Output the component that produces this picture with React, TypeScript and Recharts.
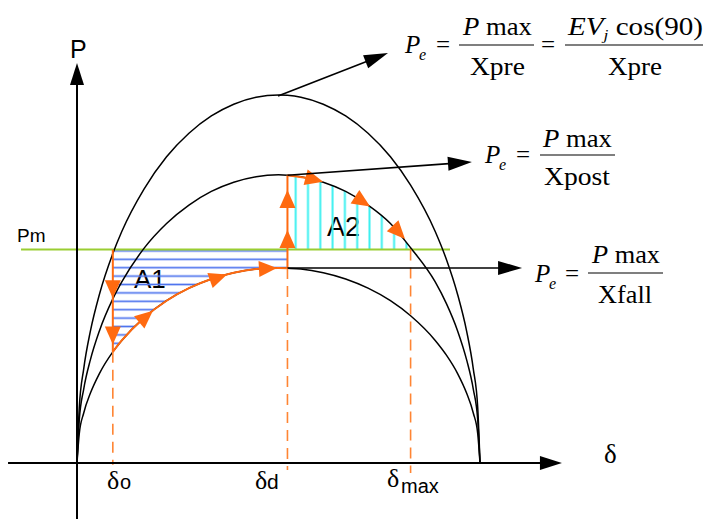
import { ComposedChart, Line, Area, XAxis, YAxis, ReferenceLine } from "recharts";

// load angle (deg) and power (Pmax of the pre-fault curve = 1)
const deltas = [0, 1, 3, 6, 10, 16, 20, 30, 40, 50, 60, 70, 80, 90, 94, 100, 110, 120, 130, 140, 149, 160, 165, 170, 174, 177, 179, 180];
const pPre = [0, 0.149, 0.256, 0.359, 0.458, 0.569, 0.629, 0.745, 0.832, 0.896, 0.943, 0.975, 0.994, 1.0, 0.999, 0.994, 0.975, 0.943, 0.896, 0.832, 0.755, 0.629, 0.553, 0.458, 0.359, 0.256, 0.149, 0];
const pPost = [0, 0.116, 0.201, 0.281, 0.359, 0.446, 0.492, 0.584, 0.651, 0.701, 0.738, 0.763, 0.778, 0.783, 0.782, 0.778, 0.763, 0.738, 0.701, 0.651, 0.585, 0.492, 0.433, 0.359, 0.281, 0.201, 0.116, 0];
const pFall = [0, 0.079, 0.136, 0.19, 0.243, 0.302, 0.333, 0.395, 0.441, 0.475, 0.5, 0.517, 0.527, 0.53, 0.529, 0.527, 0.517, 0.5, 0.475, 0.441, 0.4, 0.333, 0.293, 0.243, 0.19, 0.136, 0.079, 0];

const pm = 0.58;
const deltaO = 16;
const deltaD = 94;
const deltaMax = 149;

// [delta1, P1, delta2, P2] : base -> tip of the orange arrow heads
const orangeHeads = [
  [16, 0.49, 16, 0.448],
  [16, 0.37, 16, 0.322],
  [26.8, 0.377, 33.9, 0.414],
  [56.7, 0.49, 67, 0.512],
  [80, 0.527, 89.3, 0.53],
  [94, 0.5625, 94, 0.633],
  [94, 0.696, 94, 0.742],
  [103.6, 0.774, 109.9, 0.764],
  [123.3, 0.727, 130.9, 0.697],
  [139.8, 0.652, 146.5, 0.609],
];

// solid orange segments of the swing path
const orangeLines = [
  [deltaO, pm, deltaO, 0.302],
  [deltaD, 0.53, deltaD, 0.782],
  [deltaD, 0.782, 103.6, 0.774],
];

// dashed drops to the delta axis
const dropLines = [
  [deltaO, 0.302, deltaO, -0.005],
  [deltaD, 0.53, deltaD, -0.019],
  [deltaMax, pm, deltaMax, -0.027],
];

// black arrows: axes and pointers to the formulas
const blackArrows = [
  [-30.8, 0, 216.6, 0],
  [0, -0.16, 0, 1.087],
  [89.8, 0.997, 138.9, 1.114],
  [94, 0.782, 176.4, 0.818],
  [94, 0.53, 198.8, 0.53],
];

const rows = deltas.map((d, i) => ({
  delta: d,
  pre: pPre[i],
  post: pPost[i],
  fall: pFall[i],
  fallPath: d >= deltaO && d <= deltaD ? pFall[i] : null,
  a1: d >= deltaO && d <= deltaD ? [pFall[i], pm] : null,
  a2: d >= deltaD && d <= deltaMax ? [pm, pPost[i]] : null,
}));

const ORANGE = "#ff6a10";
const serif = "'Liberation Serif', 'Times New Roman', serif";
const sans = "'Liberation Sans', Arial, sans-serif";

const arrowShape =
  (color: string, len: number, half: number, withLine: boolean, width = 2) =>
  (props: any) => {
    const { x1, y1, x2, y2 } = props;
    const dx = x2 - x1;
    const dy = y2 - y1;
    const d = Math.hypot(dx, dy) || 1;
    const ux = dx / d;
    const uy = dy / d;
    const bx = x2 - ux * len;
    const by = y2 - uy * len;
    const px = -uy * half;
    const py = ux * half;
    return (
      <g>
        {withLine && (
          <line x1={x1} y1={y1} x2={bx + ux} y2={by + uy} stroke={color} strokeWidth={width} />
        )}
        <polygon
          points={`${x2},${y2} ${bx + px},${by + py} ${bx - px},${by - py}`}
          fill={color}
        />
      </g>
    );
  };

const seg = (s: number[]) => [
  { x: s[0], y: s[1] },
  { x: s[2], y: s[3] },
];

const Patterns = () => (
  <defs>
    <pattern id="hatchBlue" patternUnits="userSpaceOnUse" x={0} y={255.1} width={10} height={8.4}>
      <line x1={0} y1={4.2} x2={10} y2={4.2} stroke="#4f74ee" strokeWidth={1.7} />
    </pattern>
    <pattern id="hatchCyan" patternUnits="userSpaceOnUse" x={289.55} y={0} width={12.3} height={10}>
      <line x1={6.15} y1={0} x2={6.15} y2={10} stroke="#3ef0f0" strokeWidth={2} />
    </pattern>
  </defs>
);

const Frac = ({ x, y, w }: { x: number; y: number; w: number }) => (
  <line x1={x} y1={y} x2={x + w} y2={y} stroke="#000" strokeWidth={1.2} />
);

const Labels = () => (
  <g>
    <text x={70} y={58} fontFamily={sans} fontSize={25}>P</text>
    <text x={17} y={242} fontFamily={sans} fontSize={19}>Pm</text>
    <text x={134} y={288} fontFamily={sans} fontSize={26}>A1</text>
    <text x={327} y={236} fontFamily={sans} fontSize={27}>A2</text>

    <text x={604} y={463} fontFamily={serif} fontSize={27}>δ</text>
    <text x={107} y={489} fontFamily={serif} fontSize={26}>δ</text>
    <text x={120} y={489} fontFamily={sans} fontSize={20}>o</text>
    <text x={255} y={489} fontFamily={serif} fontSize={26}>δ</text>
    <text x={267} y={489} fontFamily={sans} fontSize={21}>d</text>
    <text x={387} y={487} fontFamily={serif} fontSize={26}>δ</text>
    <text x={401} y={493} fontFamily={sans} fontSize={20}>max</text>

    <g fontFamily={serif} fontSize={25}>
      {/* pre-fault */}
      <text x={405} y={53} fontStyle="italic">P</text>
      <text x={419} y={60} fontStyle="italic" fontSize={16}>e</text>
      <text x={436} y={53}>=</text>
      <Frac x={459} y={45} w={75} />
      <text x={463} y={35} textLength={69} lengthAdjust="spacingAndGlyphs">
        <tspan fontStyle="italic">P</tspan> max
      </text>
      <text x={470} y={75} textLength={55} lengthAdjust="spacingAndGlyphs">Xpre</text>
      <text x={541} y={53}>=</text>
      <Frac x={565} y={45} w={138} />
      <text x={568} y={35} textLength={135} lengthAdjust="spacingAndGlyphs">
        <tspan fontStyle="italic">EV</tspan>
        <tspan fontStyle="italic" fontSize={15} dy={5}>j</tspan>
        <tspan dy={-5}> cos(90)</tspan>
      </text>
      <text x={608} y={75} textLength={54} lengthAdjust="spacingAndGlyphs">Xpre</text>

      {/* post-fault */}
      <text x={485} y={163} fontStyle="italic">P</text>
      <text x={499} y={170} fontStyle="italic" fontSize={16}>e</text>
      <text x={516} y={163}>=</text>
      <Frac x={540} y={155} w={75} />
      <text x={543} y={147} textLength={69} lengthAdjust="spacingAndGlyphs">
        <tspan fontStyle="italic">P</tspan> max
      </text>
      <text x={544} y={185} textLength={66} lengthAdjust="spacingAndGlyphs">Xpost</text>

      {/* during fault */}
      <text x={535} y={282} fontStyle="italic">P</text>
      <text x={549} y={289} fontStyle="italic" fontSize={16}>e</text>
      <text x={565} y={282}>=</text>
      <Frac x={588} y={273} w={75} />
      <text x={592} y={263} textLength={68} lengthAdjust="spacingAndGlyphs">
        <tspan fontStyle="italic">P</tspan> max
      </text>
      <text x={598} y={303} textLength={54} lengthAdjust="spacingAndGlyphs">Xfall</text>
    </g>
  </g>
);

export default function App() {
  return (
    <div style={{ position: "absolute", left: 0, top: 0, width: 705, height: 519, background: "#fff" }}>
      <ComposedChart
        width={705}
        height={519}
        data={rows}
        margin={{ top: 95, right: 225, bottom: 56, left: 77 }}
      >
        <Patterns />
        <XAxis type="number" dataKey="delta" domain={[0, 180]} hide height={0} />
        <YAxis type="number" domain={[0, 1]} hide width={0} />

        <Area dataKey="a1" type="monotone" stroke="none" fill="url(#hatchBlue)" fillOpacity={1} isAnimationActive={false} activeDot={false} />
        <Area dataKey="a2" type="monotone" stroke="none" fill="url(#hatchCyan)" fillOpacity={1} isAnimationActive={false} activeDot={false} />

        <ReferenceLine segment={seg([-25, pm, 166.6, pm])} stroke="#9acd32" strokeWidth={2} ifOverflow="visible" />

        <Line dataKey="pre" type="monotone" stroke="#000" strokeWidth={1.5} dot={false} activeDot={false} isAnimationActive={false} />
        <Line dataKey="post" type="monotone" stroke="#000" strokeWidth={1.5} dot={false} activeDot={false} isAnimationActive={false} />
        <Line dataKey="fall" type="monotone" stroke="#000" strokeWidth={1.5} dot={false} activeDot={false} isAnimationActive={false} />
        <Line dataKey="fallPath" type="monotone" stroke={ORANGE} strokeWidth={2} dot={false} activeDot={false} isAnimationActive={false} />

        {orangeLines.map((s, i) => (
          <ReferenceLine key={`ol${i}`} segment={seg(s)} stroke={ORANGE} strokeWidth={2} ifOverflow="visible" />
        ))}
        {dropLines.map((s, i) => (
          <ReferenceLine key={`dl${i}`} segment={seg(s)} stroke="#ff8533" strokeWidth={1.6} strokeDasharray="11 7" ifOverflow="visible" />
        ))}
        {orangeHeads.map((s, i) => (
          <ReferenceLine key={`oh${i}`} segment={seg(s)} ifOverflow="visible" shape={arrowShape(ORANGE, 18, 8, false)} />
        ))}
        {blackArrows.map((s, i) => (
          <ReferenceLine key={`ba${i}`} segment={seg(s)} ifOverflow="visible" shape={arrowShape("#000", i < 2 ? 22 : 24, 7, true, i < 2 ? 2 : 1.6)} />
        ))}

        <Labels />
      </ComposedChart>
    </div>
  );
}
